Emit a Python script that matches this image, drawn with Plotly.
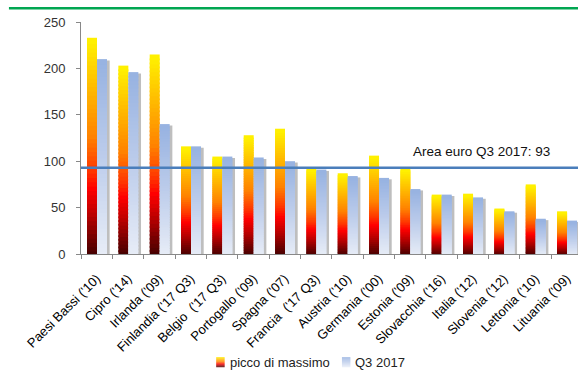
import plotly.graph_objects as go

# ---- data ----
categories = ["Paesi Bassi ('10)", "Cipro ('14)", "Irlanda ('09)", "Finlandia ('17 Q3)",
              "Belgio  ('17 Q3)", "Portogallo ('09)", "Spagna ('07)", "Francia  ('17 Q3)",
              "Austria ('10)", "Germania ('00)", "Estonia ('09)", "Slovacchia ('16)",
              "Italia ('12)", "Slovenia ('12)", "Lettonia ('10)", "Lituania ('09)"]
peak_values = [233, 203, 215, 116, 105, 128, 135, 92, 87, 106, 92, 64, 65, 49, 75, 46]
q3_2017_values = [210, 196, 140, 116, 105, 104, 100, 91, 84, 82, 70, 64, 61, 46, 38, 36]
euro_area_value = 93
series_names = ["picco di massimo", "Q3 2017"]
y_ticks = [0, 50, 100, 150, 200, 250]

# ---- gradient helpers ----
def hex2rgb(h):
    h = h.lstrip("#")
    return tuple(int(h[i:i + 2], 16) for i in (0, 2, 4))

def grad(stops, t):
    for (t0, c0), (t1, c1) in zip(stops, stops[1:]):
        if t0 <= t <= t1:
            f = 0 if t1 == t0 else (t - t0) / (t1 - t0)
            a, b = hex2rgb(c0), hex2rgb(c1)
            return "rgb(%d,%d,%d)" % tuple(round(a[i] + (b[i] - a[i]) * f) for i in range(3))
    return stops[-1][1]

# fraction measured from top of bar
peak_stops = [(0.0, "#FFF200"), (0.25, "#FFB400"), (0.45, "#FF8200"), (0.6, "#FF3A00"),
              (0.69, "#FF0000"), (0.8, "#C00000"), (0.92, "#720000"), (1.0, "#420000")]
q3_stops = [(0.0, "#97B2E1"), (0.5, "#BDCDEB"), (1.0, "#E8EDF7")]

N = 50

def gradient_trace(values, stops, offset, width):
    xs, ys, bases, cols = [], [], [], []
    for cat, v in zip(categories, values):
        h = v / N
        for k in range(N):
            lo = k * h
            ext = min(lo, 2.0)  # extend downward to overlap the segment below
            xs.append(cat)
            ys.append(h + ext)
            bases.append(lo - ext)
            t = 1 - (k + 0.5) / N
            cols.append(grad(stops, t))
    return go.Bar(x=xs, y=ys, base=bases, offset=offset, width=width,
                  marker=dict(color=cols, line=dict(width=0)),
                  showlegend=False, hoverinfo="skip")

bw = 0.319
fig = go.Figure()
# shadow of Q3 bars
fig.add_trace(go.Bar(x=categories, y=[v - 1.5 for v in q3_2017_values], offset=0.011 + 0.085, width=bw,
                     marker=dict(color="rgba(110,110,110,0.45)", line=dict(width=0)),
                     showlegend=False, hoverinfo="skip"))
fig.add_trace(gradient_trace(peak_values, peak_stops, -0.308, bw))
fig.add_trace(gradient_trace(q3_2017_values, q3_stops, 0.011, bw))

fig.update_layout(
    barmode="overlay",
    width=578, height=372,
    margin=dict(l=81, r=0, t=22, b=118),
    paper_bgcolor="white", plot_bgcolor="white",
    font=dict(family="Liberation Sans, Arial, sans-serif", color="#222"),
    showlegend=False,
)
fig.update_xaxes(
    type="category", categoryorder="array", categoryarray=categories,
    range=[-0.5, 15.36], tickangle=-45, tickson="boundaries",
    ticks="outside", ticklen=4, tickcolor="#888", showline=True, linecolor="#888",
    linewidth=1, showgrid=False, tickfont=dict(size=13, color="#000"), ticklabelstandoff=11,
)
fig.update_yaxes(
    range=[0, 250], tickvals=y_ticks, ticks="outside", ticklen=4, tickcolor="#888",
    showline=True, linecolor="#888", linewidth=1, showgrid=False, zeroline=False,
    tickfont=dict(size=13, color="#333"), ticklabelstandoff=8,
)

# euro area line
fig.add_shape(type="line", xref="paper", yref="y", x0=0, x1=1, y0=euro_area_value, y1=euro_area_value,
              line=dict(color="#4A7EBB", width=2.5))
fig.add_annotation(xref="paper", yref="y", x=0.948, y=euro_area_value, yshift=16, xanchor="right",
                   text="Area euro Q3 2017: %d" % euro_area_value, showarrow=False,
                   font=dict(size=13.5, color="#111"))

# top green rule
fig.add_shape(type="line", xref="paper", yref="paper", x0=-0.145, x1=1.0, y0=1.059, y1=1.059,
              line=dict(color="#00A651", width=2.5))

# manual legend
def legend_swatch(x0, stops):
    n = 10
    for k in range(n):
        fig.add_shape(type="rect", xref="paper", yref="paper", layer="above",
                      x0=x0, x1=x0 + 0.017,
                      y0=-0.445 - (k + 1) * 0.0043, y1=-0.445 - k * 0.0043,
                      line=dict(width=0), fillcolor=grad(stops, (k + 0.5) / n))

legend_swatch(0.272, peak_stops)
legend_swatch(0.525, q3_stops)
fig.add_annotation(xref="paper", yref="paper", x=0.295, y=-0.4665, xanchor="left", yanchor="middle",
                   text=series_names[0], showarrow=False, font=dict(size=13, color="#222"))
fig.add_annotation(xref="paper", yref="paper", x=0.548, y=-0.4665, xanchor="left", yanchor="middle",
                   text=series_names[1], showarrow=False, font=dict(size=13, color="#222"))

fig.write_html("out.html")
